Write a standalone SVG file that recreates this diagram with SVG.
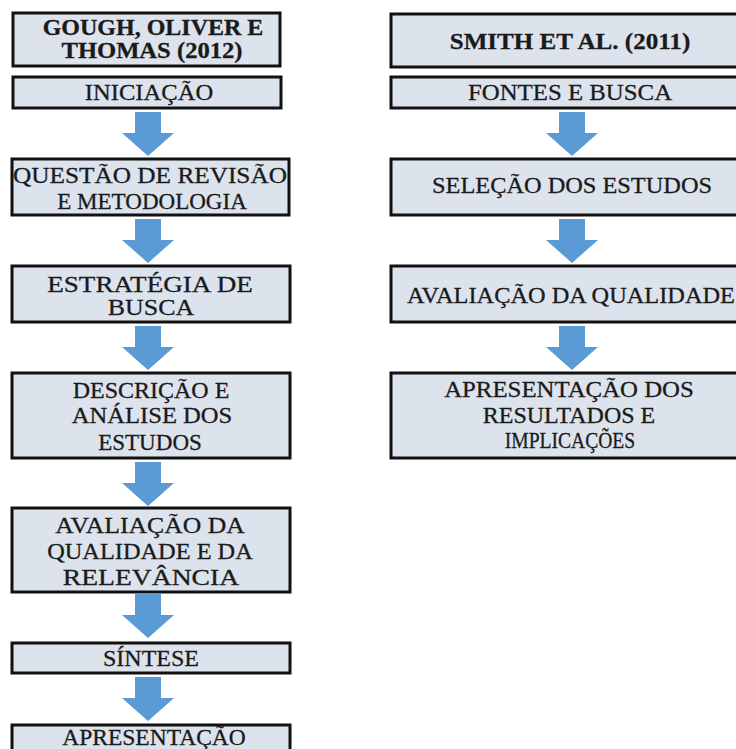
<svg xmlns="http://www.w3.org/2000/svg" width="736" height="749" viewBox="0 0 736 749">
<style>
.box{fill:#dde3ec;stroke:#111;stroke-width:3}
.t{font-family:"Liberation Serif","Times New Roman",serif;font-size:24px;fill:#1a1a1a;stroke:#1a1a1a;stroke-width:0.3;text-anchor:middle}
.b{font-weight:bold}
.arr{fill:#5b9bd5}
</style>
<defs>
<path id="arrow" d="M-13,0 H13 V21 H26 L0,44 L-26,21 H-13 Z"/>
</defs>
<rect width="736" height="749" fill="#fff"/>
<g id="connectors">
<use href="#arrow" class="arr" x="148" y="112"/>
<use href="#arrow" class="arr" x="148" y="219"/>
<use href="#arrow" class="arr" x="148" y="326"/>
<use href="#arrow" class="arr" x="148" y="462"/>
<use href="#arrow" class="arr" x="148" y="594"/>
<use href="#arrow" class="arr" x="148" y="677"/>
<use href="#arrow" class="arr" x="572" y="112"/>
<use href="#arrow" class="arr" x="572" y="219"/>
<use href="#arrow" class="arr" x="572" y="326"/>
</g>
<g id="gough">
<rect class="box" x="13" y="13" width="267" height="53"/>
<text class="t b" transform="matrix(1.0 0 0 1 153 0)" x="0" y="35">GOUGH, OLIVER E</text>
<text class="t b" transform="matrix(1.025 0 0 1 152 0)" x="0" y="58">THOMAS (2012)</text>
</g>
<g id="iniciacao">
<rect class="box" x="13" y="77" width="268" height="31"/>
<text class="t" transform="matrix(1.025 0 0 1 149 0)" x="0" y="100">INICIAÇÃO</text>
</g>
<g id="questao">
<rect class="box" x="12" y="159" width="277" height="56"/>
<text class="t" transform="matrix(1.054 0 0 1 150 0)" x="0" y="183">QUESTÃO DE REVISÃO</text>
<text class="t" transform="matrix(0.96 0 0 1 152 0)" x="0" y="209">E METODOLOGIA</text>
</g>
<g id="estrategia">
<rect class="box" x="12" y="266" width="278" height="56"/>
<text class="t" transform="matrix(1.13 0 0 1 150 0)" x="0" y="292">ESTRATÉGIA DE</text>
<text class="t" transform="matrix(1.08 0 0 1 151 0)" x="0" y="315">BUSCA</text>
</g>
<g id="descricao">
<rect class="box" x="12" y="373" width="278" height="85"/>
<text class="t" transform="matrix(1.0 0 0 1 151 0)" x="0" y="398">DESCRIÇÃO E</text>
<text class="t" transform="matrix(1.025 0 0 1 152 0)" x="0" y="423">ANÁLISE DOS</text>
<text class="t" transform="matrix(0.96 0 0 1 150 0)" x="0" y="450">ESTUDOS</text>
</g>
<g id="avaliacao-relevancia">
<rect class="box" x="12" y="508" width="278" height="84"/>
<text class="t" transform="matrix(1.07 0 0 1 150 0)" x="0" y="533">AVALIAÇÃO DA</text>
<text class="t" transform="matrix(1.015 0 0 1 150 0)" x="0" y="559">QUALIDADE E DA</text>
<text class="t" transform="matrix(1.15 0 0 1 151 0)" x="0" y="585">RELEVÂNCIA</text>
</g>
<g id="sintese">
<rect class="box" x="12" y="643" width="278" height="30"/>
<text class="t" transform="matrix(1.0 0 0 1 151 0)" x="0" y="666">SÍNTESE</text>
</g>
<g id="apresentacao">
<rect class="box" x="12" y="725" width="278" height="40"/>
<text class="t" transform="matrix(0.98 0 0 1 154 0)" x="0" y="745">APRESENTAÇÃO</text>
</g>
<g id="smith">
<rect class="box" x="391" y="14" width="360" height="53"/>
<text class="t b" transform="matrix(1.045 0 0 1 570 0)" x="0" y="49">SMITH ET AL. (2011)</text>
</g>
<g id="fontes">
<rect class="box" x="391" y="77" width="360" height="31"/>
<text class="t" transform="matrix(1.035 0 0 1 570 0)" x="0" y="100">FONTES E BUSCA</text>
</g>
<g id="selecao">
<rect class="box" x="391" y="159" width="360" height="56"/>
<text class="t" transform="matrix(1.015 0 0 1 572 0)" x="0" y="193">SELEÇÃO DOS ESTUDOS</text>
</g>
<g id="avaliacao-qualidade">
<rect class="box" x="391" y="266" width="360" height="56"/>
<text class="t" transform="matrix(1.015 0 0 1 571 0)" x="0" y="303">AVALIAÇÃO DA QUALIDADE</text>
</g>
<g id="apresentacao-resultados">
<rect class="box" x="391" y="373" width="360" height="85"/>
<text class="t" transform="matrix(1.035 0 0 1 569 0)" x="0" y="397">APRESENTAÇÃO DOS</text>
<text class="t" transform="matrix(1.0 0 0 1 569 0)" x="0" y="423">RESULTADOS E</text>
<text class="t" transform="matrix(0.815 0 0 1 570 0)" x="0" y="448">IMPLICAÇÕES</text>
</g>
</svg>
